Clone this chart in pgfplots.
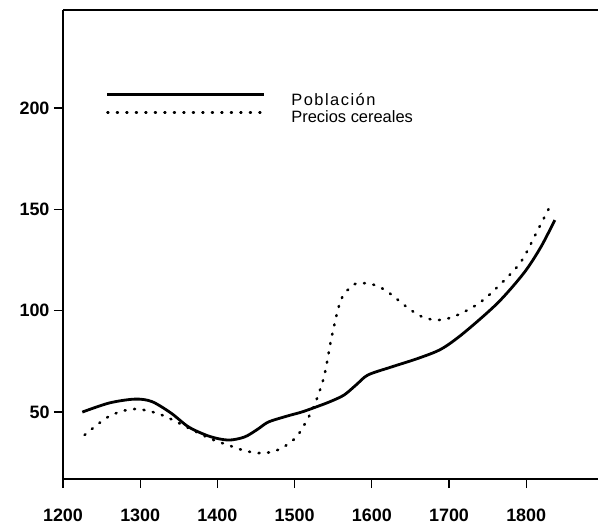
\documentclass[border=0pt]{standalone}
\usepackage{fontspec}
\setmainfont{Liberation Sans}
\usepackage{pgfplots}
\pgfplotsset{compat=1.18}
\begin{document}
\begin{tikzpicture}[x=1bp,y=1bp]
\useasboundingbox (-63,-49) rectangle (537,479);
\begin{axis}[
  at={(0,0)}, anchor=south west,
  scale only axis, width=535bp, height=469bp,
  xmin=1200, xmax=1893, ymin=17, ymax=248.3,
  axis lines*=left,
  axis line style={line width=1.3pt},
  xtick={1200,1300,...,1800},
  ytick={50,100,150,200},
  tick align=outside,
  major tick length=9bp,
  tick style={line width=1.2pt, black},
  /pgf/number format/assume math mode=true,
  /pgf/number format/1000 sep={},
  tick label style={font=\fontsize{18}{20}\selectfont\bfseries},
  xticklabel style={yshift=-17bp},
  yticklabel style={xshift=-1bp},
  legend style={draw=none, fill=none, at={(0.080,0.790)}, anchor=west,
     font=\fontsize{16.5}{19}\selectfont, row sep=0bp, inner sep=0pt},
  legend cell align=left,
  legend image code/.code={\draw[#1] (0bp,5bp) -- (157bp,5bp); \path[draw=none] (0bp,-5bp) -- (182bp,-5bp);},
  clip=false,
]
\addplot[black, line width=2.8bp, smooth, tension=0.5] coordinates {
(1225,50) (1260,54.5) (1293,56.4) (1315,55.2) (1340,49.5) (1363,42.6) (1390,38) (1414,36.2) (1435,37.7) (1452,41.5) (1466,45.1) (1490,48) (1509,50) (1524,52) (1545,55) (1564,58.4) (1580,63.5) (1595,68.3) (1625,72.2) (1660,76.5) (1690,81.1) (1719,89) (1763,103.8) (1797,118.6) (1819,131.4) (1837,144.7)
};
\addlegendentry{\addfontfeature{LetterSpace=9}Población}
\addplot[black, line width=2.6bp, line cap=round, dash pattern=on 1bp off 8.5bp, smooth, tension=0.5] coordinates {
(1228,38.7) (1260,48) (1292,51.5) (1325,49) (1363,42.1) (1390,37) (1414,33.7) (1435,31) (1453,29.8) (1470,30.3) (1483,32.2) (1496,35.5) (1506,39.6) (1524,52) (1538,67.3) (1548,87) (1560,105.3) (1576,112.7) (1589,113.6) (1605,112.5) (1621,109.2) (1647,101.3) (1665,97) (1683,95.4) (1700,96.3) (1719,99.3) (1740,104) (1763,111.7) (1793,124) (1815,139.8) (1833,153.1)
};
\addlegendentry{Precios cereales}
\draw[line width=1.3pt] (rel axis cs:0,1) -- (rel axis cs:1,1);
\end{axis}
\end{tikzpicture}
\end{document}
